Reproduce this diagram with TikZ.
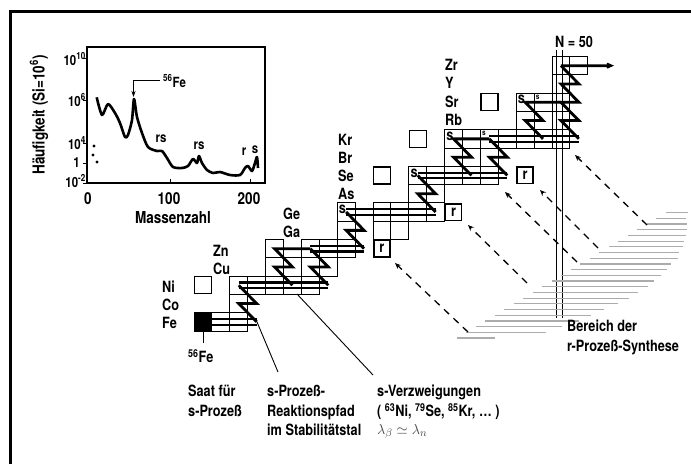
\documentclass[tikz,border=0pt]{standalone}
\usepackage{fontspec}
\setmainfont{TeX Gyre Heros}[FakeStretch=0.82]
\usetikzlibrary{arrows.meta}
\newcommand\labfont{\bfseries\fontsize{15.5}{19.5}\selectfont}
\newcommand\axfont{\bfseries\fontsize{16.5}{18}\selectfont}
\newcommand\tkfont{\bfseries\fontsize{14}{15}\selectfont}
\newcommand\drun[2]{\draw[runline] ([yshift=2.8pt]#1) -- ([yshift=2.8pt]#2);
  \draw[runline] ([yshift=-2.8pt]#1) -- ([yshift=-2.8pt]#2);}
\begin{document}
\begin{tikzpicture}[x=1pt,y=-1pt,
  cellbox/.style={draw,line width=0.9pt,minimum width=17.9pt,minimum height=18.3pt,inner sep=0pt,outer sep=0pt},
  psq/.style={draw,line width=1.3pt,minimum width=17pt,minimum height=17pt,inner sep=0pt},
  rbox/.style={draw,line width=1.5pt,minimum width=16pt,minimum height=16.5pt,inner sep=0pt,font=\labfont},
  spath/.style={line width=2.8pt,line join=miter,miter limit=3},
  runline/.style={line width=2.2pt},
  lab/.style={font=\labfont,inner sep=0pt},
  rarr/.style={line width=1.3pt,dash pattern=on 7pt off 6pt,-{Stealth[length=6pt,width=5pt]}},
  hatchline/.style={gray!65,line width=1.2pt},
  leader/.style={line width=0.9pt}]
\useasboundingbox (0,0) rectangle (691,464);
% frame (top and left)
\coordinate (fr1) at (10,464); \coordinate (fr2) at (10,11.5); \coordinate (fr3) at (691,11.5);
\draw[line width=3pt] (fr1) -- (fr2) -- (fr3);
% ---------------- inset -------------
\draw[line width=1.2pt] (87,47) rectangle (265,183);
\foreach \yy in {58,100,143,163,183} \draw[line width=1pt] (83,\yy) -- (87,\yy);
\foreach \xx in {170,250} \draw[line width=1pt] (\xx,183) -- (\xx,179);
\node[font=\tkfont,anchor=east,inner sep=0pt] (t10) at (86,59) {10\textsuperscript{10}};
\node[font=\tkfont,anchor=east,inner sep=0pt] (t6) at (86,100) {10\textsuperscript{6}};
\node[font=\tkfont,anchor=east,inner sep=0pt] (t4) at (86,143) {10\textsuperscript{4}};
\node[font=\tkfont,anchor=east,inner sep=0pt] (t1) at (80,163) {1};
\node[font=\tkfont,anchor=east,inner sep=0pt] (tm2) at (86,181) {10\textsuperscript{-2}};
\node[font=\axfont,inner sep=0pt] (x0) at (88,199) {0};
\node[font=\axfont,inner sep=0pt] (x100) at (169,199) {100};
\node[font=\axfont,inner sep=0pt] (x200) at (249,199) {200};
\node[font=\axfont,inner sep=0pt] (xlab) at (173,218) {Massenzahl};
\node[font=\axfont,inner sep=0pt,rotate=90] (ylab) at (39,115) {Häufigkeit (Si=10\textsuperscript{6})};
\draw[line width=2.6pt,line join=round] plot[smooth,tension=0.45] coordinates {
 (96.7,97.3) (102,115) (108,104) (115,113) (120,123) (125,137) (128,135) (132,120) (134,99)
 (137,117) (142,133) (148,147) (157,151) (162,151) (167,158) (173,167) (182,168) (188,166)
 (193,159) (197,163) (199,156) (202,163) (207,170) (213,173) (220,172) (230,175) (240,175)
 (245,168) (248,166) (252,171) (255,163) (257,157) (258,168)};
\fill (94,146) circle (1.6pt) (93,155) circle (1.6pt) (97,162) circle (1.6pt);
\coordinate (feA) at (133.5,80);
\coordinate (feB) at (133.5,97);
\coordinate (feC) at (160,80);
\draw[line width=1pt,-{Stealth[length=6pt,width=4pt]}] (feC) -- (feA) -- (feB);
\node[font=\tkfont,anchor=west,inner sep=0pt] (fe56) at (163,81) {\textsuperscript{56}Fe};
\node[font=\tkfont,inner sep=0pt] (rs1) at (161,139) {rs};
\node[font=\tkfont,inner sep=0pt] (rs2) at (199,146) {rs};
\node[font=\tkfont,inner sep=0pt] (rr) at (244,152) {r};
\node[font=\tkfont,inner sep=0pt] (ss) at (255,150) {s};
% ---------------- chart coordinates -------------
\foreach \i in {0,...,22}{\foreach \j in {0,...,14}{
  \coordinate (c\i-\j) at ({194+17.9*(\i+0.5)},{331-18.3*(\j+0.5)});}}
% cells
\node[cellbox,fill=black] (n0-0) at (c0-0) {};
\foreach \i/\j in {1/0,2/0,2/1,2/2,3/2,4/2,5/2,6/2,
  4/3,5/3,6/3,7/3,4/4,6/4,7/4,8/4,8/5,10/5,11/5,8/6,10/6,11/6,12/6,13/6,
  12/7,13/7,12/8,13/8,14/8,15/8,16/8,14/9,15/9,16/9,
  14/10,15/10,16/10,17/10,18/10,19/10,20/10,18/11,19/11,20/11,18/12,19/12,20/12,
  20/13,20/14,21/14}
  \node[cellbox] (n\i-\j) at (c\i-\j) {};
% p squares
\node[psq] (p0) at (c0-2) {};
\node[psq] (p1) at (c10-8) {};
\node[psq] (p2) at (c12-10) {};
\node[psq] (p3) at (c16-12) {};
% r boxes
\node[rbox] (r1) at (c10-4) {r};
\node[rbox] (r2) at (c14-6) {r};
\node[rbox] (r3) at (c18-8) {r};
% s labels
\foreach \i/\j in {8/6,12/8,14/10,18/12}
  \node[font=\labfont,anchor=north west,inner sep=0pt] (s\i-\j) at ([xshift=1.5pt,yshift=-2pt]n\i-\j.north west) {s};
\foreach \i/\j in {16/10,19/12}
  \node[font=\bfseries\fontsize{8}{8}\selectfont,anchor=north west,inner sep=1.5pt] (s\i-\j) at (n\i-\j.north west) {s};
% N=50 lines
\coordinate (nA) at (556,50); \coordinate (nB) at (556,318);
\coordinate (nC) at (562,50); \coordinate (nD) at (562,318);
\draw[line width=0.8pt] (nA) -- (nB) (nC) -- (nD);
\node[font=\labfont,inner sep=0pt] (n50) at (574,42) {N = 50};
% s-process path: double runs (n-captures) and zigzags
\drun{c0-0}{c3-0}
\drun{c2-2}{c7-2}
\drun{c6-4}{c9-4}
\drun{c8-6}{c13-6}
\drun{c12-8}{c17-8}
\drun{c16-10}{c21-10}
\coordinate (pend) at (614,65.65);
\draw[spath] (c3-0) -- (c2-1) -- (c3-1) -- (c2-2);
\draw[spath] (c7-2) -- (c6-3) -- (c7-3) -- (c6-4);
\draw[spath] (c9-4) -- (c8-5) -- (c9-5) -- (c8-6);
\draw[spath] (c13-6) -- (c12-7) -- (c13-7) -- (c12-8);
\draw[spath] (c17-8) -- (c16-9) -- (c17-9) -- (c16-10);
\draw[spath] (c21-10) -- (c20-11) -- (c21-11) -- (c20-12) -- (c21-12) -- (c20-13) -- (c21-13) -- (c20-14);
\draw[spath,-{Stealth[length=9pt,width=8pt]}] (c20-14) -- (pend);
\draw[spath] (c5-2) -- (c4-3) -- (c5-3) -- (c4-4) -- (c6-4);
\draw[spath] (c15-8) -- (c14-9) -- (c15-9) -- (c14-10) -- (c16-10);
\draw[spath] (c19-10) -- (c18-11) -- (c19-11) -- (c18-12) -- (c20-12);
% element labels
\node[lab,anchor=west] (lNi) at (162,287) {Ni};
\node[lab,anchor=west] (lCo) at (162,305) {Co};
\node[lab,anchor=west] (lFe) at (162,323) {Fe};
\node[lab,anchor=west] (lZn) at (213,251) {Zn};
\node[lab,anchor=west] (lCu) at (213,269) {Cu};
\node[lab,anchor=west] (lGe) at (283,214) {Ge};
\node[lab,anchor=west] (lGa) at (283,232) {Ga};
\node[lab,anchor=west] (lKr) at (338,140) {Kr};
\node[lab,anchor=west] (lBr) at (338,158) {Br};
\node[lab,anchor=west] (lSe) at (338,176) {Se};
\node[lab,anchor=west] (lAs) at (338,194) {As};
\node[lab,anchor=west] (lZr) at (445,65) {Zr};
\node[lab,anchor=west] (lY) at (445,83) {Y};
\node[lab,anchor=west] (lSr) at (445,102) {Sr};
\node[lab,anchor=west] (lRb) at (445,120) {Rb};
% hatch region (r-process)
\foreach \k/\w in {0/38,1/80,2/86,3/94,4/96,5/100,6/104,7/106,8/105,9/106,10/102,11/100,12/96,13/91,14/88,15/80,16/74,17/66,18/58,19/50,20/40,21/30,22/22}{
  \pgfmathsetmacro\yy{338-5.7*\k}
  \pgfmathsetmacro\xl{462+(335-\yy)*1.664}
  \pgfmathsetmacro\xr{min(\xl+\w,690)}
  \draw[hatchline] (\xl,\yy) -- (\xr,\yy);}
% dashed arrows
\coordinate (a1t) at (468,332); \coordinate (a1h) at (395,263);
\coordinate (a2t) at (527,283); \coordinate (a2h) at (468,225);
\coordinate (a3t) at (577,262); \coordinate (a3h) at (505,192);
\coordinate (a4t) at (598,248); \coordinate (a4h) at (540,190);
\coordinate (a5t) at (647,225); \coordinate (a5h) at (575,155);
\foreach \a in {1,...,5} \draw[rarr] (a\a t) -- (a\a h);
% bottom labels
\coordinate (fe0) at (203,331); \coordinate (fe1) at (203,343);
\draw[leader] (fe0) -- (fe1);
\node[lab,anchor=north west] (bfe) at (188,349) {\textsuperscript{56}Fe};
\node[lab,anchor=north west,align=left] (saat) at (188,385) {Saat für\\s-Prozeß};
\coordinate (l1a) at (257,322); \coordinate (l1b) at (278,372);
\draw[leader] (l1a) -- (l1b);
\node[lab,anchor=north west,align=left] (spfad) at (267,385) {s-Prozeß-\\Reaktionspfad\\im Stabilitätstal};
\coordinate (l2a) at (297,294); \coordinate (l2b) at (373,375);
\draw[leader] (l2a) -- (l2b);
\node[lab,anchor=north west,align=left] (sverz) at (377,385) {s-Verzweigungen\\( \textsuperscript{63}Ni, \textsuperscript{79}Se, \textsuperscript{85}Kr, \dots\ )};
\node[anchor=north west,inner sep=0pt,text=black!75,font=\fontsize{15}{16}\selectfont] (lam) at (377,424) {$\lambda_\beta\simeq\lambda_n$};
\node[lab,anchor=north west,align=left] (bereich) at (567,320) {Bereich der\\r-Prozeß-Synthese};
\end{tikzpicture}
\end{document}
